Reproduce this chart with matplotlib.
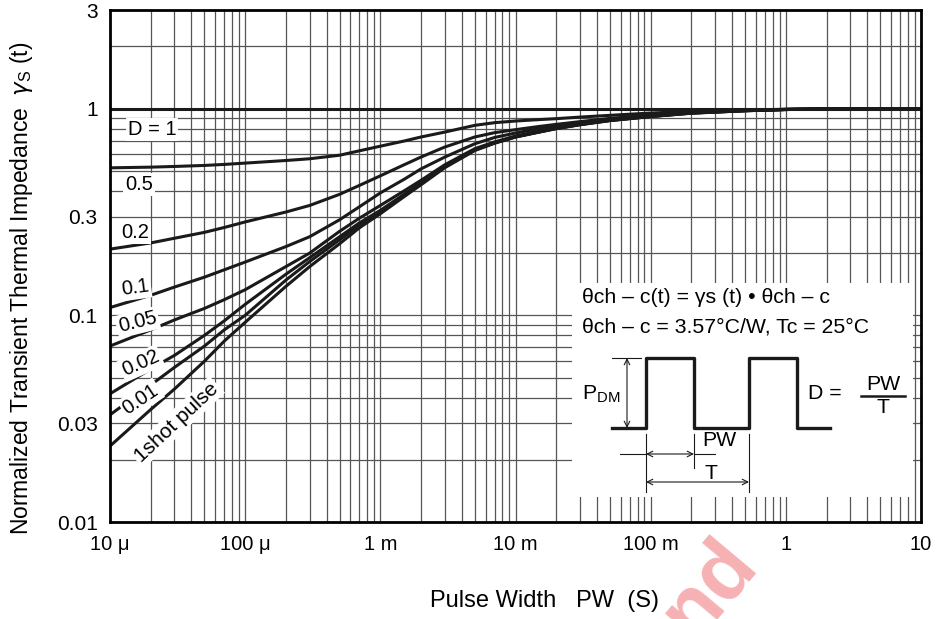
import matplotlib
matplotlib.use("Agg")
import matplotlib.pyplot as plt
from matplotlib.ticker import FixedLocator, NullFormatter

plt.rcParams['font.family'] = ['Liberation Sans', 'DejaVu Sans']

# pulse width (s) and read-off impedance values
pw = [1e-5, 2e-5, 3e-5, 5e-5, 7e-5, 1e-4, 2e-4, 3e-4, 5e-4, 7e-4,
      1e-3, 1.5e-3, 2e-3, 3e-3, 5e-3, 7e-3, 1e-2, 1.5e-2, 2e-2, 3e-2,
      5e-2, 0.1, 0.2, 0.5, 1, 2, 5, 10]
d_1 = [1.0] * len(pw)
d_05 = [0.517, 0.521, 0.525, 0.531, 0.537, 0.545, 0.561, 0.572, 0.595, 0.625,
        0.658, 0.697, 0.729, 0.77, 0.83, 0.855, 0.871, 0.885, 0.894, 0.91,
        0.928, 0.952, 0.97, 0.984, 0.993, 0.998, 1.0, 1.0]
d_02 = [0.209, 0.224, 0.236, 0.252, 0.266, 0.283, 0.316, 0.34, 0.385, 0.425,
        0.473, 0.535, 0.583, 0.652, 0.729, 0.765, 0.791, 0.82, 0.839, 0.865,
        0.897, 0.932, 0.96, 0.981, 0.992, 0.997, 1.0, 1.0]
d_01 = [0.109, 0.125, 0.137, 0.153, 0.166, 0.181, 0.215, 0.24, 0.29, 0.335,
        0.391, 0.455, 0.511, 0.583, 0.676, 0.725, 0.762, 0.8, 0.82, 0.85,
        0.888, 0.926, 0.958, 0.98, 0.991, 0.997, 1.0, 1.0]
d_005 = [0.071, 0.085, 0.095, 0.108, 0.119, 0.133, 0.172, 0.2, 0.255, 0.295,
         0.34, 0.4, 0.45, 0.535, 0.64, 0.69, 0.737, 0.778, 0.808, 0.842,
         0.88, 0.92, 0.955, 0.978, 0.99, 0.996, 1.0, 1.0]
d_002 = [0.0417, 0.055, 0.064, 0.08, 0.094, 0.113, 0.158, 0.19, 0.24, 0.28,
         0.322, 0.385, 0.437, 0.525, 0.632, 0.684, 0.731, 0.772, 0.802, 0.838,
         0.877, 0.917, 0.952, 0.977, 0.99, 0.996, 1.0, 1.0]
d_001 = [0.033, 0.046, 0.056, 0.071, 0.085, 0.1, 0.148, 0.182, 0.232, 0.273,
         0.317, 0.38, 0.433, 0.522, 0.63, 0.682, 0.73, 0.771, 0.801, 0.837,
         0.876, 0.916, 0.951, 0.977, 0.99, 0.996, 1.0, 1.0]
d_1shot = [0.0233, 0.035, 0.044, 0.06, 0.075, 0.0925, 0.138, 0.172, 0.222, 0.265,
           0.31, 0.375, 0.428, 0.518, 0.627, 0.68, 0.728, 0.77, 0.8, 0.835,
           0.875, 0.915, 0.95, 0.976, 0.99, 0.996, 1.0, 1.0]

xticks = [1e-5, 1e-4, 1e-3, 1e-2, 1e-1, 1, 10]
xticklabels = ['10 μ', '100 μ', '1 m', '10 m', '100 m', '1', '10']
yticks = [0.01, 0.03, 0.1, 0.3, 1, 3]
yticklabels = ['0.01', '0.03', '0.1', '0.3', '1', '3']

fig = plt.figure(figsize=(9.38, 6.19), dpi=100)
ax = fig.add_axes([110/938, 1-522/619, 811/938, 512/619])
ax.set_xscale('log')
ax.set_yscale('log')
ax.set_xlim(1e-5, 10)
ax.set_ylim(0.01, 3)

# grid lines at 1..9 of every decade
xgrid = [m * 10.0**e for e in range(-5, 1) for m in range(1, 10)]
ygrid = [m * 10.0**e for e in range(-2, 0) for m in range(1, 10)] + [1, 2]
for v in xgrid[1:]:
    ax.axvline(v, color='#555555', lw=0.9, zorder=1)
for v in ygrid[1:]:
    ax.axhline(v, color='#555555', lw=0.9, zorder=1)

for ys in [d_1, d_05, d_02, d_01, d_005, d_002, d_001, d_1shot]:
    ax.plot(pw, ys, color='#1a1a1a', lw=2.2, zorder=3)

ax.xaxis.set_major_locator(FixedLocator(xticks))
ax.set_xticklabels(xticklabels, fontsize=14.5)
ax.xaxis.set_minor_formatter(NullFormatter())
ax.yaxis.set_major_locator(FixedLocator(yticks))
ax.set_yticklabels(yticklabels, fontsize=15)
ax.yaxis.set_minor_formatter(NullFormatter())
ax.tick_params(which='both', length=0)
ax.tick_params(axis='x', pad=9)
ax.tick_params(axis='y', pad=9)
for s in ax.spines.values():
    s.set_linewidth(2)
    s.set_zorder(6)

# curve labels (axes fraction)
box = dict(facecolor='white', edgecolor='none', pad=1.5)
labels = [('D = 1', 0.052, 0.766, 0), ('0.5', 0.036, 0.66, 0),
          ('0.2', 0.031, 0.566, 0), ('0.1', 0.031, 0.457, 8),
          ('0.05', 0.034, 0.39, 14), ('0.02', 0.038, 0.31, 24),
          ('0.01', 0.038, 0.24, 34)]
for txt, x, y, r in labels:
    ax.text(x, y, txt, transform=ax.transAxes, fontsize=14.5, rotation=r,
            ha='center', va='center', bbox=box, zorder=4)
ax.text(0.082, 0.195, '1shot pulse', transform=ax.transAxes, fontsize=15,
        rotation=43, ha='center', va='center', bbox=box, zorder=4)

fig.text(22/938, 1-288/619, r'Normalized Transient Thermal Impedance  $\gamma_\mathregular{S}$ (t)',
         rotation=90, ha='center', va='center', fontsize=16.5)
fig.text(544/938, 1-601/619, 'Pulse Width   PW  (S)', ha='center', va='center',
         fontsize=17)

# inset with formula and pulse diagram, drawn in pixel-like units
ins = fig.add_axes([572/938, 1-497/619, 341/938, 214/619], zorder=5)
ins.set_xlim(572, 913)
ins.set_ylim(497, 283)
ins.axis('off')
ins.add_patch(plt.Rectangle((572, 283), 341, 214, facecolor='white', edgecolor='none'))
fs = 15.3
ins.text(582, 298, 'θch – c(t) = γs (t) • θch – c', fontsize=fs, va='center')
ins.text(582, 327, 'θch – c = 3.57°C/W, Tc = 25°C', fontsize=fs, va='center')

wave_x = [612, 646, 646, 694, 694, 749, 749, 797, 797, 830]
wave_y = [428, 428, 358, 358, 428, 428, 358, 358, 428, 428]
ins.plot(wave_x, wave_y, color='#1a1a1a', lw=2.4)
thin = dict(color='#1a1a1a', lw=0.8)
ins.plot([612, 641], [358, 358], **thin)
ins.plot([646, 646], [434, 492], **thin)
ins.plot([694, 694], [434, 468], **thin)
ins.plot([749, 749], [434, 492], **thin)
ins.plot([620, 646], [454, 454], **thin)
ins.plot([694, 715], [454, 454], **thin)
arr = dict(arrowstyle='<->', color='#1a1a1a', lw=0.8, shrinkA=0, shrinkB=0)
ins.annotate('', xy=(627, 358), xytext=(627, 428), arrowprops=arr)
ins.annotate('', xy=(646, 454), xytext=(694, 454), arrowprops=arr)
ins.annotate('', xy=(646, 482), xytext=(749, 482), arrowprops=arr)
ins.text(582, 394, r'P$_\mathregular{DM}$', fontsize=fs, va='center')
ins.text(702, 441, 'PW', fontsize=fs, va='center')
ins.text(711, 474, 'T', fontsize=fs, ha='center', va='center')
ins.text(808, 394, 'D =', fontsize=fs, va='center')
ins.text(883, 385, 'PW', fontsize=fs, va='center', ha='center')
ins.plot([861, 905], [396, 396], color='#1a1a1a', lw=1.8)
ins.text(883, 408, 'T', fontsize=fs, va='center', ha='center')

# watermark fragment
fig.text(0.755, 0.05, 'nd', color='#f5a3a6', fontsize=60, fontweight='bold',
         rotation=50, ha='center', va='center', alpha=0.85)

fig.savefig('out.png', dpi=100)
